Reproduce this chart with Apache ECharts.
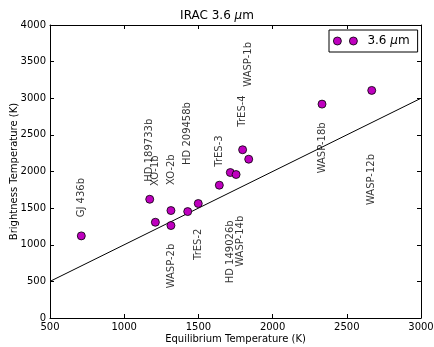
<!DOCTYPE html>
<html>
<head>
<meta charset="utf-8">
<script src="https://cdn.jsdelivr.net/npm/echarts@6/dist/echarts.min.js"></script>
<style>html,body{margin:0;padding:0;background:#fff}#c{width:434px;height:347px}</style>
</head>
<body>
<div id="c"></div>
<script>
var planetNames = ['GJ 436b','HD 189733b','XO-1b','XO-2b','WASP-2b','HD 209458b','TrES-2','TrES-3','HD 149026b','WASP-14b','TrES-4','WASP-1b','WASP-18b','WASP-12b'];
var eqTemp = [711,1172,1210,1315,1315,1428,1499,1641,1715,1754,1798,1839,2333,2668];
var brightTemp = [1121,1621,1307,1467,1262,1453,1563,1813,1986,1959,2297,2168,2920,3107];
var labelX = [711,1172,1210,1315,1320,1428,1499,1641,1715,1780,1798,1839,2333,2668];
var labelY = [1375,1861,1802,1816,405,2089,792,2065,474,700,2612,3158,1975,1543];
var lineX = [500,3000];
var lineY = [500,3000];
var xTicks = [500,1000,1500,2000,2500,3000];
var yTicks = [0,500,1000,1500,2000,2500,3000,3500,4000];

var FONT = 'DejaVu Sans';
var pts = eqTemp.map(function(x,i){return [x, brightTemp[i]];});
var labs = labelX.map(function(x,i){return [x, labelY[i], planetNames[i]];});
var lin = lineX.map(function(x,i){return [x, lineY[i]];});

function axisCommon(pos, showLabel, ticks){
  return {
    type:'value', position:pos,
    min: ticks[0], max: ticks[ticks.length-1], interval: ticks[1]-ticks[0],
    axisLine:{show:true, onZero:false, lineStyle:{color:'#000', width:1}},
    axisTick:{show:true, inside:true, length:4, lineStyle:{color:'#000'}},
    axisLabel:{show:showLabel, color:'#000', fontFamily:FONT, fontSize:10, margin:4,
      formatter:function(v){return String(v);}},
    splitLine:{show:false}
  };
}
var xb = axisCommon('bottom', true, xTicks);
xb.name = 'Equilibrium Temperature (K)'; xb.nameLocation='middle'; xb.nameGap=16;
xb.nameMoveOverlap = false;
xb.nameTextStyle = {fontFamily:FONT, fontSize:10, color:'#000'};
var yl = axisCommon('left', true, yTicks);
yl.name = 'Brightness Temperature (K)'; yl.nameLocation='middle'; yl.nameGap=31;
yl.nameMoveOverlap = false;
yl.nameTextStyle = {fontFamily:FONT, fontSize:10, color:'#000'};
var xt = axisCommon('top', false, xTicks);
var yr = axisCommon('right', false, yTicks);

var chart = echarts.init(document.getElementById('c'), null, {renderer:'canvas'});
chart.setOption({
  animation:false,
  backgroundColor:'#fff',
  title:{
    text:'IRAC 3.6 {i|μ}m', left:'center', top:5,
    textStyle:{fontFamily:FONT, fontSize:12, fontWeight:'normal', color:'#000',
      rich:{i:{fontFamily:FONT, fontSize:12, fontStyle:'italic', color:'#000'}}}
  },
  grid:{left:50, right:13, top:25, bottom:29, containLabel:false, outerBoundsMode:'none'},
  xAxis:[xb, xt],
  yAxis:[yl, yr],
  legend:{
    data:[{name:'3.6 μm', icon:'path://M0,4a4,4 0 1,0 8,0a4,4 0 1,0 -8,0M16,4a4,4 0 1,0 8,0a4,4 0 1,0 -8,0'}],
    left:329, top:30, itemWidth:24, itemHeight:8,
    padding:[5,8,5,4],
    borderColor:'#000', borderWidth:1, borderRadius:0, backgroundColor:'#fff',
    itemStyle:{color:'#bf00bf', borderColor:'#000', borderWidth:0.8},
    formatter:function(){return '3.6 {i|μ}m';},
    textStyle:{fontFamily:FONT, fontSize:12, color:'#000', padding:[0,0,0,5],
      rich:{i:{fontFamily:FONT, fontSize:12, fontStyle:'italic', color:'#000'}}}
  },
  series:[
    {type:'line', data:lin, symbol:'none', silent:true, lineStyle:{color:'#000', width:1}, z:2},
    {type:'scatter', name:'3.6 μm', data:pts, symbol:'circle', symbolSize:8,
      itemStyle:{color:'#bf00bf', borderColor:'#000', borderWidth:0.8, opacity:1}, z:3},
    {type:'scatter', data:labs, symbolSize:0, silent:true, z:4,
      label:{show:true, position:'inside', rotate:90, align:'left', verticalAlign:'middle',
        formatter:function(p){return p.data[2];},
        fontFamily:FONT, fontSize:10, color:'#000'}}
  ]
});
</script>
</body>
</html>
